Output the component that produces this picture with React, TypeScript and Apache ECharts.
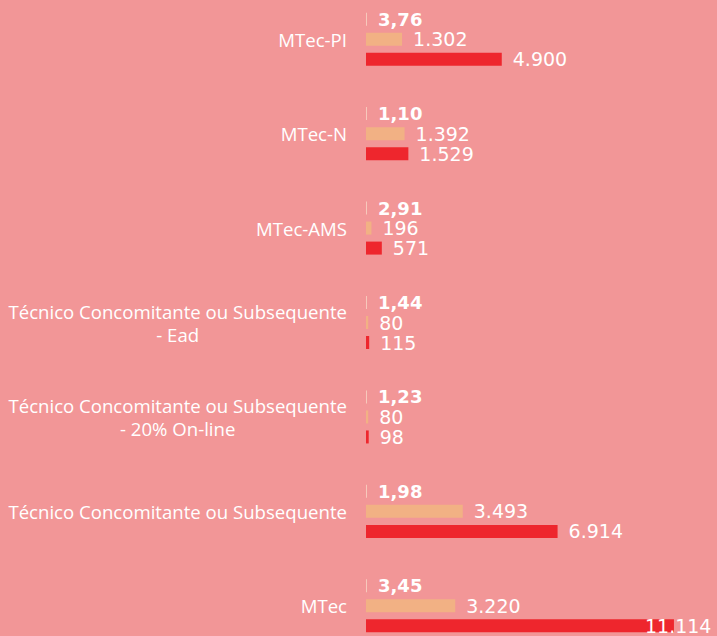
import React, { useEffect, useRef } from "react";
import * as echarts from "echarts";

const categories = [
  "MTec-PI",
  "MTec-N",
  "MTec-AMS",
  "Técnico Concomitante ou Subsequente\n- Ead",
  "Técnico Concomitante ou Subsequente\n- 20% On-line",
  "Técnico Concomitante ou Subsequente",
  "MTec",
];
const ratioValues = [3.76, 1.1, 2.91, 1.44, 1.23, 1.98, 3.45];
const vagasValues = [1302, 1392, 196, 80, 80, 3493, 3220];
const inscritosValues = [4900, 1529, 571, 115, 98, 6914, 11114];

const BG = "#F29697";
const ORANGE = "#F2B184";
const RED = "#EE262D";
const CAT_FONT = "'Open Sans', sans-serif";
const VAL_FONT = "'DejaVu Sans', sans-serif";

const fmtThousands = (v: number) =>
  String(Math.round(v)).replace(/\B(?=(\d{3})+(?!\d))/g, ".");

export default function App() {
  const ref = useRef<HTMLDivElement>(null);
  useEffect(() => {
    if (!ref.current) return;
    const chart = echarts.init(ref.current, undefined, { renderer: "svg" });
    const maxVal = Math.max(...inscritosValues);
    const valueLabel = {
      show: true,
      position: "right" as const,
      distance: 11,
      color: "#FFFFFF",
      fontFamily: VAL_FONT,
      fontSize: 19,
      formatter: (p: any) => fmtThousands(p.value),
    };
    chart.setOption({
      animation: false,
      backgroundColor: BG,
      grid: { left: 366, right: 18.5, top: 0, bottom: 0, containLabel: false },
      xAxis: {
        type: "value",
        min: 0,
        max: 12000,
        show: false,
      },
      yAxis: {
        type: "category",
        data: categories,
        inverse: true,
        axisLine: { show: false },
        axisTick: { show: false },
        splitLine: { show: false },
        axisLabel: {
          color: "#FFFFFF",
          fontFamily: CAT_FONT,
          fontSize: 18.6,
          lineHeight: 23,
          align: "right",
          margin: 19,
          formatter: (v: string) =>
            v.includes("\n")
              ? v
                  .split("\n")
                  .map((l) => `{c|${l}}`)
                  .join("\n")
              : v,
          rich: {
            c: {
              align: "center",
              color: "#FFFFFF",
              fontFamily: CAT_FONT,
              fontSize: 18.6,
              lineHeight: 23,
            },
          },
        },
      },
      series: [
        {
          type: "bar",
          data: ratioValues,
          barWidth: 13,
          barGap: "54%",
          barMinHeight: 1,
          itemStyle: { color: "#F7C9BC" },
          label: {
            show: true,
            position: "right",
            distance: 11,
            color: "#FFFFFF",
            fontFamily: VAL_FONT,
            fontSize: 18,
            fontWeight: "bold",
            formatter: (p: any) => Number(p.value).toFixed(2).replace(".", ","),
          },
        },
        {
          type: "bar",
          data: vagasValues,
          barWidth: 13,
          barGap: "54%",
          itemStyle: { color: ORANGE },
          label: valueLabel,
        },
        {
          type: "bar",
          data: inscritosValues.map((v) =>
            v === maxVal ? { value: v, label: { offset: [-40, 0] } } : v
          ),
          barWidth: 13,
          barGap: "54%",
          itemStyle: { color: RED },
          label: valueLabel,
        },
      ],
    });
    return () => chart.dispose();
  }, []);
  return (
    <div
      ref={ref}
      style={{ position: "fixed", left: 0, top: -8, width: 717, height: 661 }}
    />
  );
}
